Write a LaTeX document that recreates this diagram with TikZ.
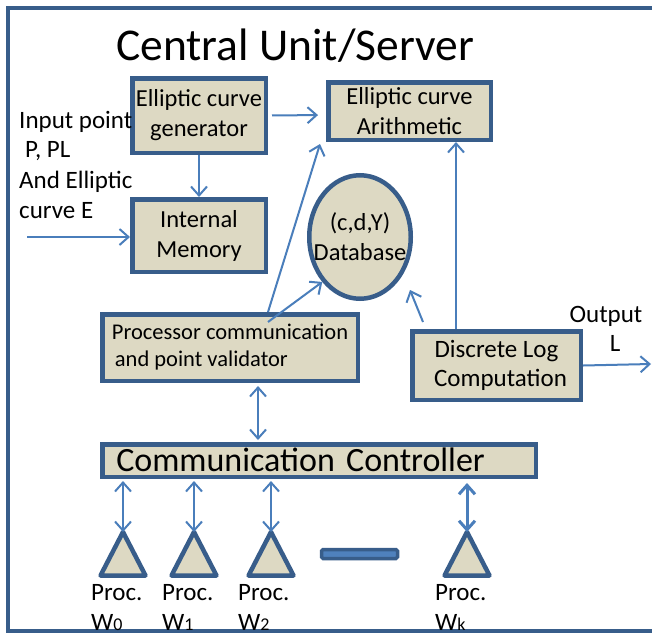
\documentclass[tikz,border=0pt]{standalone}
\usepackage{fontspec}
\setmainfont{Carlito}
\usetikzlibrary{arrows.meta,shapes.geometric}
\definecolor{bord}{HTML}{385D8A}
\definecolor{tanf}{HTML}{DDD9C3}
\definecolor{arrc}{HTML}{4A7EBB}
\definecolor{barc}{HTML}{4F81BD}
\tikzset{
  box/.style={draw=bord, fill=tanf, line width=4.5pt, rectangle, inner sep=0pt, align=center, font=\fontsize{24.5}{30}\selectfont},
  oval/.style={draw=bord, fill=tanf, line width=4.5pt, ellipse, inner sep=0pt},
  barb/.style={Straight Barb[length=9pt,width=16pt]},
  arr/.style={draw=arrc, line width=2pt, -{Straight Barb[length=9pt,width=16pt]}},
  darr/.style={draw=arrc, line width=2pt, {Straight Barb[length=9pt,width=16pt]}-{Straight Barb[length=9pt,width=16pt]}},
  tri/.style={draw=bord, fill=tanf, line width=4.5pt, line join=round},
  lbl/.style={font=\fontsize{25}{30}\selectfont, inner sep=0pt}
}
\newcommand{\subdig}[1]{{\fontsize{18}{18}\selectfont #1}}
\begin{document}
\begin{tikzpicture}[x=1pt, y=-1pt]
\useasboundingbox (0,0) rectangle (652,637);
\clip (0,0) rectangle (652,637);
\fill[white] (0,0) rectangle (652,637);
% frame
\draw[draw=bord, line width=4pt] (8,7.5) rectangle (720,631);
% title
\node[lbl, font=\fontsize{45.5}{50}\selectfont, anchor=base west] (title) at (116,60) {Central Unit/Server};
% boxes
\node[box, minimum width=133.5pt, minimum height=74.5pt] (gen) at (199,115.5) {Elliptic curve\\generator};
\node[box, minimum width=162.5pt, minimum height=57.5pt] (arith) at (409.5,111) {Elliptic curve\\Arithmetic};
\node[box, minimum width=133.5pt, minimum height=72.5pt] (mem) at (199,235.5) {Internal\\Memory};
\node[oval, minimum width=101.5pt, minimum height=123.5pt,
      label={[lbl, align=center, font=\fontsize{24.5}{30}\selectfont]center:(c,d,Y)\\Database}] (db) at (360,237) {};
\node[box, minimum width=255.5pt, minimum height=66.5pt, align=left, font=\fontsize{22.5}{27}\selectfont] (proc) at (230,347.5) {Processor communication\\\hspace{3pt}and point validator};
\node[box, minimum width=168.5pt, minimum height=68.5pt, font=\fontsize{25}{29}\selectfont] (disc) at (496.5,365.5) {Discrete Log\\\hspace{8pt}Computation};
\node[box, text width=405.5pt, inner xsep=14pt, inner ysep=5.75pt, text height=21pt, text depth=0pt, align=left, font=\fontsize{34}{36}\selectfont] (cc) at (319,460.5) {Communication Controller};
% input text
\node[lbl, anchor=base west] (in1) at (19,128) {Input point};
\node[lbl, anchor=base west] (in2) at (25,157) {P, PL};
\node[lbl, anchor=base west] (in3) at (19,188) {And Elliptic};
\node[lbl, anchor=base west] (in4) at (19,218) {curve E};
% output text
\node[lbl, anchor=base] (outt) at (606,322) {Output};
\node[lbl, anchor=base] (outl) at (615,351) {L};
% coordinates
\coordinate (inA) at (27,237);
\coordinate (outB) at (651,364);
\coordinate (pA) at (268,312);
\coordinate (pB) at (268,322);
\coordinate (arT) at (320,144);
\coordinate (dA) at (423,322);
\coordinate (dB) at (410,290);
% arrows
\draw[arr] (inA) -- (inA -| mem.west);
\draw[arr] (gen.south) -- (mem.north);
\draw[arr, shorten <=4pt, shorten >=8pt] (gen.east) -- ([yshift=-4pt]arith.west);
\draw[arr] (pA) -- (arT);
\draw[arr] (pB) -- (db.230);
\draw[arr] (dA) -- (dB);
\draw[arr] (456,0 |- disc.north) -- (456,0 |- arith.south);
\draw[arr] (disc.east) -- (outB);
\draw[darr, shorten <=3pt, shorten >=2pt] (258,0 |- proc.south) -- (258,0 |- cc.north);
% processors
\coordinate (t0) at (123,532);
\coordinate (t1) at (194,532);
\coordinate (t2) at (271,532);
\coordinate (tk) at (467,532);
\foreach \t in {t0,t1,t2,tk}{
  \draw[tri] (\t) -- ++(22.5,43.5) -- ++(-45,0) -- cycle;
}
\draw[darr, shorten <=2pt] (t0 |- cc.south) -- (t0);
\draw[darr, shorten <=2pt] (t1 |- cc.south) -- (t1);
\draw[darr, shorten <=2pt] (t2 |- cc.south) -- (t2);
\draw[darr, line width=3pt, shorten <=4pt] (tk |- cc.south) -- (tk);
% dash bar
\draw[draw=bord, fill=barc, line width=3.5pt, rounded corners=1.5pt] (321.5,549.5) rectangle (397.5,558.5);
% labels
\node[lbl, anchor=base west] (p0) at (91,600) {Proc.};
\node[lbl, anchor=base west] (w0) at (91,630) {W\subdig{0}};
\node[lbl, anchor=base west] (p1) at (162,600) {Proc.};
\node[lbl, anchor=base west] (w1) at (162,630) {W\subdig{1}};
\node[lbl, anchor=base west] (p2) at (238,600) {Proc.};
\node[lbl, anchor=base west] (w2) at (238,630) {W\subdig{2}};
\node[lbl, anchor=base west] (pk) at (435,600) {Proc.};
\node[lbl, anchor=base west] (wk) at (435,630) {W\subdig{k}};
\end{tikzpicture}
\end{document}
